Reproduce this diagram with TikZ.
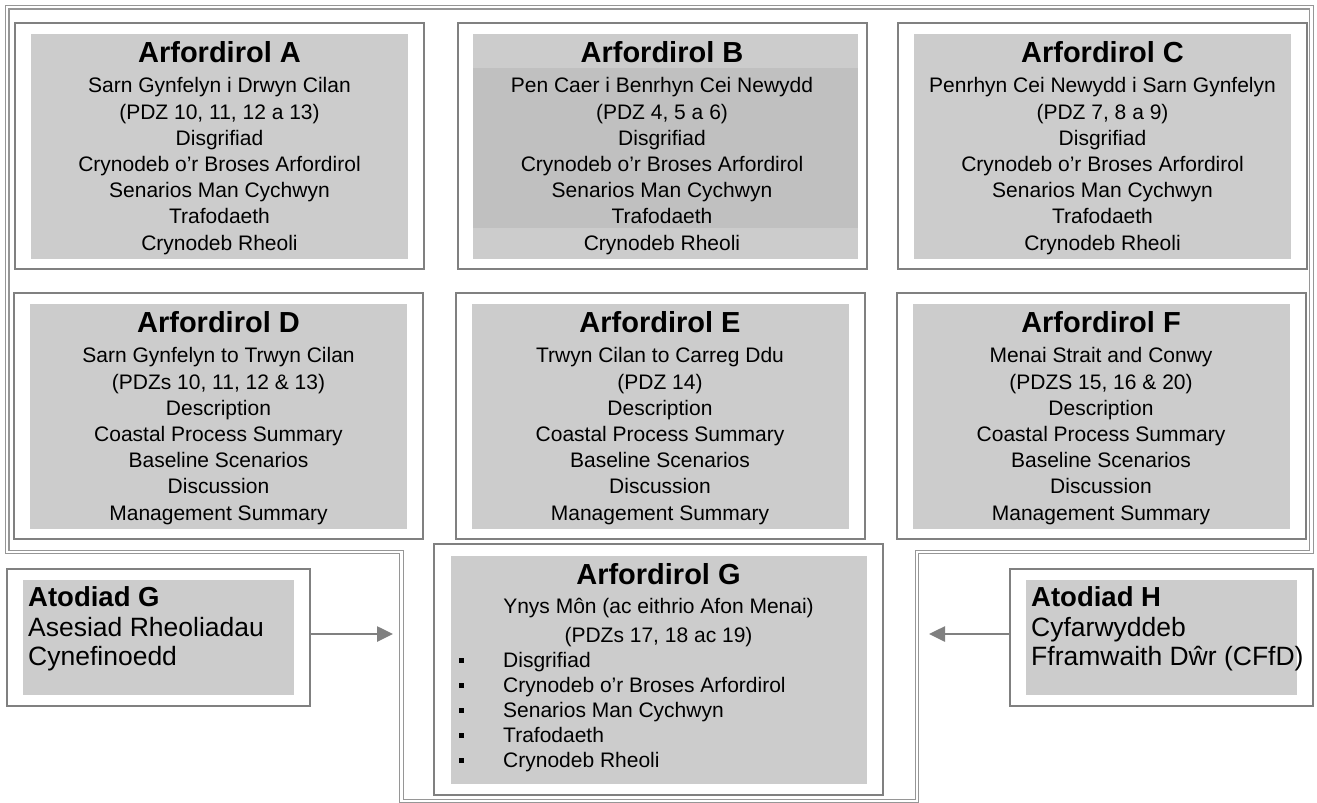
\documentclass[tikz,border=0pt]{standalone}
\usepackage{fontspec}
\setmainfont{Liberation Sans}
\usepackage{tikz}
\usetikzlibrary{arrows.meta, positioning, calc}
\definecolor{cellgray}{RGB}{204,204,204}
\definecolor{bandgray}{RGB}{192,192,192}
\definecolor{linegray}{RGB}{128,128,128}
\definecolor{framegray}{RGB}{150,150,150}
\newcommand\hdfont{\fontsize{29}{29}\selectfont\bfseries}
\newcommand\apphd{\fontsize{27.5}{29.5}\selectfont\bfseries}
\newcommand\itm{\makebox[44pt][l]{\raisebox{4.5pt}{\rule{5pt}{5pt}}}}
\tikzset{
  cellbox/.style={rectangle, draw=linegray, line width=2pt, fill=white,
    minimum width=409pt, minimum height=246pt},
  graybox/.style={rectangle, fill=cellgray, minimum width=377pt, minimum height=225pt},
  txt/.style={font=\fontsize{21}{26.2}\selectfont, align=center, inner sep=0pt, anchor=north},
  appbox/.style={rectangle, draw=linegray, line width=2pt, fill=white,
    minimum width=303pt, minimum height=137pt},
  appgray/.style={rectangle, fill=cellgray, minimum width=271pt, minimum height=115pt},
  apptxt/.style={font=\fontsize{26.5}{29.5}\selectfont, align=left, inner sep=0pt, anchor=north west},
  frame/.style={draw=framegray, line width=1.2pt, double, double distance=2.2pt},
  arrow/.style={-{Triangle[length=16pt, width=15pt]}, line width=2.6pt, linegray}
}
\begin{document}
\begin{tikzpicture}[x=1pt, y=-1pt]
  \useasboundingbox (0,0) rectangle (1317,803);
  % outer double frame
  \draw[frame] (7.3,7.3) -- (1311.5,7.3) -- (1311.5,552) -- (917,552) -- (917,801)
    -- (401.5,801) -- (401.5,552) -- (7.3,552) -- cycle;

  % row 1 (Welsh)
  \node[cellbox] (ca) at (219.5,146) {};
  \node[graybox] (ga) at (ca) {};
  \node[txt] (ta) at ($(ca.north)+(0,19.5)$) {{\hdfont Arfordirol A}\\[4pt]
    Sarn Gynfelyn i Drwyn Cilan\\(PDZ 10, 11, 12 a 13)\\Disgrifiad\\
    Crynodeb o’r Broses Arfordirol\\Senarios Man Cychwyn\\Trafodaeth\\Crynodeb Rheoli};

  \node[cellbox] (cb) at (662,146) {};
  \node[graybox, minimum width=385pt] (gb) at (665.5,146.5) {};
  \fill[bandgray] ($(gb.north west)+(0,34)$) rectangle ($(gb.north east)+(0,194)$);
  \node[txt] (tb) at ($(cb.north)+(0,19.5)$) {{\hdfont Arfordirol B}\\[4pt]
    Pen Caer i Benrhyn Cei Newydd\\(PDZ 4, 5 a 6)\\Disgrifiad\\
    Crynodeb o’r Broses Arfordirol\\Senarios Man Cychwyn\\Trafodaeth\\Crynodeb Rheoli};

  \node[cellbox] (cc) at (1102.5,146) {};
  \node[graybox] (gc) at (cc) {};
  \node[txt] (tc) at ($(cc.north)+(0,19.5)$) {{\hdfont Arfordirol C}\\[4pt]
    Penrhyn Cei Newydd i Sarn Gynfelyn\\(PDZ 7, 8 a 9)\\Disgrifiad\\
    Crynodeb o’r Broses Arfordirol\\Senarios Man Cychwyn\\Trafodaeth\\Crynodeb Rheoli};

  % row 2 (English)
  \node[cellbox] (cd) at (218.5,416) {};
  \node[graybox] (gd) at (cd) {};
  \node[txt] (td) at ($(cd.north)+(0,19.5)$) {{\hdfont Arfordirol D}\\[4pt]
    Sarn Gynfelyn to Trwyn Cilan\\(PDZs 10, 11, 12 \& 13)\\Description\\
    Coastal Process Summary\\Baseline Scenarios\\Discussion\\Management Summary};

  \node[cellbox] (ce) at (660,416) {};
  \node[graybox] (ge) at (ce) {};
  \node[txt] (te) at ($(ce.north)+(0,19.5)$) {{\hdfont Arfordirol E}\\[4pt]
    Trwyn Cilan to Carreg Ddu\\(PDZ 14)\\Description\\
    Coastal Process Summary\\Baseline Scenarios\\Discussion\\Management Summary};

  \node[cellbox] (cf) at (1101,416) {};
  \node[graybox] (gf) at (cf) {};
  \node[txt] (tf) at ($(cf.north)+(0,19.5)$) {{\hdfont Arfordirol F}\\[4pt]
    Menai Strait and Conwy\\(PDZS 15, 16 \& 20)\\Description\\
    Coastal Process Summary\\Baseline Scenarios\\Discussion\\Management Summary};

  % Arfordirol G
  \node[cellbox, minimum width=449pt, minimum height=251pt] (cg) at (658.5,669.5) {};
  \node[graybox, minimum width=416pt, minimum height=228pt] (gg) at (659,670) {};
  \node[txt, font=\fontsize{21}{29}\selectfont] (tg) at ($(cg.north)+(0,20.2)$)
    {{\hdfont Arfordirol G}\\Ynys Môn (ac eithrio Afon Menai)\\(PDZs 17, 18 ac 19)};
  \node[txt, font=\fontsize{21}{25}\selectfont, align=left, anchor=north west] (lg) at (459,652)
    {\itm Disgrifiad\\\itm Crynodeb o’r Broses Arfordirol\\\itm Senarios Man Cychwyn\\
     \itm Trafodaeth\\\itm Crynodeb Rheoli};

  % appendices
  \node[appbox] (ag) at (158.5,637.5) {};
  \node[appgray] (agg) at (ag) {};
  \node[apptxt] (tag) at (28,586.5) {{\apphd Atodiad G}\\Asesiad Rheoliadau\\Cynefinoedd};

  \node[appbox] (ah) at (1161,637.5) {};
  \node[appgray] (ahg) at (ah) {};
  \node[apptxt] (tah) at (1031,586.5) {{\apphd Atodiad H}\\Cyfarwyddeb\\Fframwaith Dŵr (CFfD)};

  \coordinate (gin) at (393,634);
  \coordinate (hin) at (929,634);
  \draw[arrow] (ag.east |- gin) -- (gin);
  \draw[arrow] (ah.west |- hin) -- (hin);
\end{tikzpicture}
\end{document}
